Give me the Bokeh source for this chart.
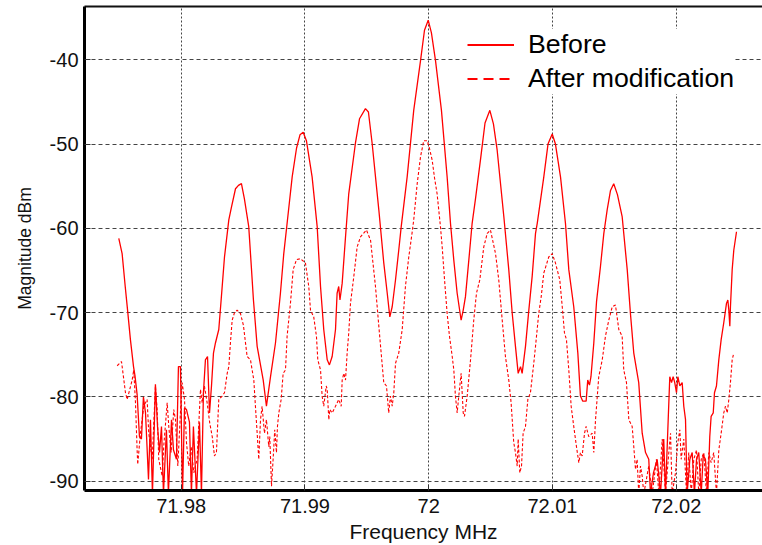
from bokeh.plotting import figure
from bokeh.models import FixedTicker, Legend, LegendItem, Range1d, LinearAxis
from bokeh.embed import file_html
from bokeh.resources import INLINE

freq_before = [
    71.97496, 71.97523, 71.97548, 71.97569, 71.97590, 71.97615, 71.97627, 71.97644,
    71.97663, 71.97679, 71.97695, 71.97712, 71.97736, 71.97752, 71.97768, 71.97792,
    71.97809, 71.97825, 71.97841, 71.97857, 71.97881, 71.97897, 71.97922, 71.97938,
    71.97962, 71.97978, 71.97994, 71.98011, 71.98027, 71.98043, 71.98067, 71.98083,
    71.98099, 71.98124, 71.98148, 71.98164, 71.98180, 71.98196, 71.98213, 71.98229,
    71.98245, 71.98261, 71.98277, 71.98304, 71.98323, 71.98350, 71.98385, 71.98406,
    71.98439, 71.98463, 71.98487, 71.98511, 71.98546, 71.98568, 71.98584, 71.98614,
    71.98663, 71.98689, 71.98722, 71.98762, 71.98802, 71.98829, 71.98856, 71.98897,
    71.98932, 71.98960, 71.98986, 71.99012, 71.99058, 71.99099, 71.99126, 71.99152,
    71.99180, 71.99198, 71.99220, 71.99247, 71.99260, 71.99273, 71.99283, 71.99301,
    71.99328, 71.99354, 71.99408, 71.99441, 71.99489, 71.99513, 71.99543, 71.99597,
    71.99637, 71.99665, 71.99686, 71.99705, 71.99732, 71.99758, 71.99778, 71.99826,
    71.99879, 71.99934, 71.99966, 71.99996, 72.00022, 72.00055, 72.00103, 72.00149,
    72.00176, 72.00203, 72.00230, 72.00262, 72.00279, 72.00297, 72.00324, 72.00351,
    72.00378, 72.00418, 72.00455, 72.00494, 72.00523, 72.00553, 72.00607, 72.00647,
    72.00675, 72.00701, 72.00723, 72.00742, 72.00755, 72.00782, 72.00809, 72.00836,
    72.00863, 72.00877, 72.00930, 72.00964, 72.00998, 72.01024, 72.01065, 72.01105,
    72.01132, 72.01172, 72.01205, 72.01226, 72.01245, 72.01272, 72.01285, 72.01299,
    72.01311, 72.01334, 72.01356, 72.01388, 72.01415, 72.01442, 72.01469, 72.01495,
    72.01525, 72.01563, 72.01604, 72.01630, 72.01657, 72.01697, 72.01725, 72.01752,
    72.01778, 72.01792, 72.01816, 72.01846, 72.01873, 72.01899, 72.01913, 72.01935,
    72.01948, 72.01962, 72.01975, 72.01988, 72.02002, 72.02013, 72.02029, 72.02048,
    72.02061, 72.02075, 72.02088, 72.02110, 72.02129, 72.02147, 72.02164, 72.02182,
    72.02202, 72.02218, 72.02236, 72.02255, 72.02271, 72.02282, 72.02299, 72.02309,
    72.02325, 72.02344, 72.02363, 72.02384, 72.02406, 72.02417, 72.02425, 72.02433,
    72.02438, 72.02452, 72.02465, 72.02487,
]
mag_before = [
    -61.2, -63.0, -66.9, -70.0, -73.2, -76.4, -77.5, -79.7,
    -84.7, -85.0, -80.0, -81.9, -89.8, -82.7, -91.5, -78.5,
    -83.5, -86.6, -83.5, -91.5, -83.9, -91.5, -82.7, -86.3,
    -87.4, -76.4, -76.4, -91.5, -81.3, -81.5, -83.0, -91.5,
    -83.5, -91.5, -83.0, -91.5, -79.5, -75.6, -75.2, -81.9,
    -78.7, -74.8, -73.6, -72.0, -68.5, -63.4, -59.0, -57.5,
    -55.3, -54.9, -54.7, -56.5, -59.8, -64.8, -68.5, -74.0,
    -78.0, -81.1, -77.6, -73.6, -67.7, -63.0, -59.4, -53.9,
    -50.5, -48.9, -48.6, -49.6, -53.9, -59.8, -66.9, -72.0,
    -75.6, -76.2, -75.2, -72.0, -67.7, -66.9, -68.5, -66.5,
    -61.0, -55.9, -49.9, -47.0, -45.8, -46.2, -49.9, -57.8,
    -64.1, -67.7, -70.5, -69.3, -66.1, -62.6, -59.8, -53.9,
    -46.0, -40.1, -36.5, -35.3, -36.8, -40.1, -46.0, -53.9,
    -59.4, -63.8, -67.7, -70.9, -69.7, -68.1, -63.8, -59.4,
    -56.5, -51.9, -47.5, -46.0, -47.6, -50.7, -58.6, -64.9,
    -70.1, -74.0, -77.2, -76.4, -77.2, -74.0, -69.7, -65.7,
    -60.6, -59.4, -53.9, -50.0, -48.8, -50.0, -53.9, -59.4,
    -64.9, -69.3, -74.8, -79.9, -80.5, -80.5, -78.0, -78.6,
    -77.6, -73.6, -68.7, -64.5, -60.6, -57.8, -55.5, -54.7,
    -56.0, -58.6, -64.9, -70.1, -74.8, -78.3, -84.3, -86.6,
    -87.4, -91.5, -89.0, -87.4, -91.5, -85.0, -91.5, -82.7,
    -77.6, -78.3, -77.6, -78.3, -79.5, -77.6, -78.7, -78.3,
    -81.1, -82.7, -91.5, -87.4, -86.6, -91.5, -87.4, -86.6,
    -91.5, -86.9, -87.4, -91.5, -84.7, -82.3, -81.9, -79.5,
    -78.7, -75.6, -73.2, -71.2, -68.9, -68.5, -69.7, -71.6,
    -69.3, -64.9, -62.6, -60.4,
]

freq_after = [
    71.97483, 71.97518, 71.97550, 71.97564, 71.97604, 71.97617, 71.97631, 71.97644,
    71.97649, 71.97671, 71.97698, 71.97725, 71.97738, 71.97766, 71.97792, 71.97806,
    71.97819, 71.97847, 71.97859, 71.97887, 71.97900, 71.97919, 71.97940, 71.97954,
    71.97973, 71.97994, 71.98008, 71.98027, 71.98043, 71.98061, 71.98081, 71.98102,
    71.98129, 71.98156, 71.98170, 71.98188, 71.98210, 71.98231, 71.98251, 71.98269,
    71.98285, 71.98304, 71.98331, 71.98350, 71.98372, 71.98385, 71.98398, 71.98412,
    71.98431, 71.98452, 71.98479, 71.98503, 71.98533, 71.98560, 71.98587, 71.98600,
    71.98614, 71.98627, 71.98641, 71.98654, 71.98673, 71.98689, 71.98708, 71.98716,
    71.98730, 71.98743, 71.98756, 71.98770, 71.98778, 71.98789, 71.98808, 71.98824,
    71.98843, 71.98856, 71.98883, 71.98905, 71.98932, 71.98964, 71.99004, 71.99031,
    71.99045, 71.99071, 71.99093, 71.99104, 71.99126, 71.99139, 71.99152, 71.99172,
    71.99180, 71.99193, 71.99201, 71.99220, 71.99247, 71.99273, 71.99293, 71.99301,
    71.99314, 71.99328, 71.99341, 71.99354, 71.99368, 71.99395, 71.99422, 71.99449,
    71.99497, 71.99530, 71.99570, 71.99597, 71.99616, 71.99637, 71.99659, 71.99677,
    71.99691, 71.99705, 71.99718, 71.99732, 71.99758, 71.99786, 71.99812, 71.99839,
    71.99866, 71.99879, 71.99907, 71.99934, 71.99960, 71.99988, 72.00006, 72.00028,
    72.00047, 72.00068, 72.00095, 72.00109, 72.00128, 72.00149, 72.00168, 72.00190,
    72.00203, 72.00216, 72.00230, 72.00243, 72.00262, 72.00279, 72.00289, 72.00311,
    72.00338, 72.00364, 72.00386, 72.00413, 72.00445, 72.00473, 72.00499, 72.00540,
    72.00566, 72.00594, 72.00620, 72.00647, 72.00666, 72.00687, 72.00701, 72.00715,
    72.00723, 72.00736, 72.00750, 72.00763, 72.00782, 72.00801, 72.00822, 72.00849,
    72.00863, 72.00889, 72.00909, 72.00930, 72.00970, 72.00998, 72.01024, 72.01059,
    72.01079, 72.01097, 72.01113, 72.01132, 72.01151, 72.01172, 72.01194, 72.01213,
    72.01226, 72.01240, 72.01259, 72.01272, 72.01293, 72.01321, 72.01334, 72.01348,
    72.01374, 72.01402, 72.01428, 72.01455, 72.01483, 72.01509, 72.01536, 72.01563,
    72.01576, 72.01598, 72.01617, 72.01644, 72.01657, 72.01671, 72.01684, 72.01697,
    72.01711, 72.01725, 72.01738, 72.01778, 72.01806, 72.01840, 72.01859, 72.01887,
    72.01913, 72.01940, 72.01954, 72.01967, 72.01994, 72.02013, 72.02029, 72.02040,
    72.02061, 72.02083, 72.02101, 72.02121, 72.02142, 72.02164, 72.02182, 72.02202,
    72.02223, 72.02244, 72.02263, 72.02282, 72.02303, 72.02325, 72.02344, 72.02363,
    72.02384, 72.02398, 72.02412, 72.02425, 72.02438, 72.02452, 72.02465,
]
mag_after = [
    -76.3, -75.8, -79.5, -80.3, -78.0, -76.8, -80.7, -86.2,
    -88.0, -84.3, -81.1, -80.3, -84.3, -87.4, -78.7, -81.5,
    -87.4, -89.4, -85.9, -80.7, -83.5, -86.6, -81.5, -82.7,
    -88.2, -81.9, -78.3, -80.3, -85.4, -88.2, -85.9, -89.0,
    -87.4, -79.1, -80.7, -78.7, -80.7, -83.1, -84.7, -87.0,
    -86.6, -80.3, -79.9, -79.5, -77.2, -76.4, -73.6, -70.9,
    -70.0, -69.7, -70.1, -71.5, -75.2, -75.6, -78.0, -81.1,
    -84.3, -87.4, -82.7, -81.1, -84.3, -82.7, -85.9, -84.7,
    -90.6, -87.4, -83.9, -86.6, -83.5, -81.9, -80.3, -77.2,
    -76.8, -72.8, -68.9, -64.9, -63.7, -63.6, -64.1, -66.9,
    -69.7, -70.5, -72.8, -75.6, -76.8, -79.9, -81.1, -78.7,
    -79.1, -82.7, -81.5, -81.9, -81.1, -80.3, -81.1, -78.0,
    -77.2, -78.0, -74.8, -72.4, -68.9, -65.7, -62.2, -61.0,
    -60.2, -61.4, -66.9, -71.6, -74.8, -78.3, -78.7, -81.9,
    -79.9, -81.1, -79.5, -76.0, -74.8, -72.0, -66.9, -63.4,
    -60.5, -59.0, -54.7, -51.5, -49.6, -49.6, -50.5, -51.9,
    -54.0, -55.9, -59.8, -62.2, -66.1, -70.1, -72.8, -75.2,
    -76.8, -79.9, -81.9, -79.9, -77.2, -81.9, -82.3, -79.9,
    -75.6, -70.9, -67.7, -66.1, -62.2, -60.6, -60.2, -63.0,
    -66.1, -70.9, -75.2, -78.0, -80.7, -85.4, -86.6, -88.2,
    -85.0, -89.0, -88.2, -84.3, -83.5, -80.3, -79.5, -76.0,
    -74.0, -70.1, -68.1, -65.3, -63.4, -63.0, -64.1, -66.1,
    -69.3, -72.4, -73.2, -76.8, -81.1, -83.5, -85.9, -87.8,
    -86.6, -87.0, -84.3, -83.5, -84.7, -84.3, -86.6, -82.7,
    -77.6, -75.6, -72.8, -70.9, -69.3, -69.1, -72.0, -72.8,
    -76.8, -78.3, -82.7, -83.5, -85.9, -88.6, -87.4, -91.5,
    -88.2, -89.4, -91.5, -88.2, -91.5, -87.4, -91.5, -85.0,
    -91.5, -86.6, -84.3, -91.5, -89.0, -85.4, -83.9, -87.4,
    -85.0, -91.5, -86.6, -91.5, -87.4, -86.3, -91.5, -87.4,
    -86.6, -91.5, -86.6, -87.8, -86.6, -91.5, -86.3, -84.3,
    -81.9, -81.1, -81.9, -80.3, -78.3, -75.6, -74.8,
]

x_ticks = [71.98, 71.99, 72.0, 72.01, 72.02]
x_tick_labels = ["71.98", "71.99", "72", "72.01", "72.02"]
y_ticks = [-90, -80, -70, -60, -50, -40]
y_tick_labels = ["-90", "-80", "-70", "-60", "-50", "-40"]
series_labels = ["Before", "After modification"]

FONT = "Liberation Sans"
RED = "#ff0000"

p = figure(width=762, height=545, output_backend="svg", toolbar_location=None,
           x_range=Range1d(71.97219, 72.02697), y_range=Range1d(-91.1, -33.68),
           min_border_left=84, min_border_right=0, min_border_top=6,
           min_border_bottom=55)
p.outline_line_color = None
p.background_fill_color = "white"
p.border_fill_color = "white"

p.line(freq_before, mag_before, line_color=RED, line_width=1.3)
p.line(freq_after, mag_after, line_color=RED, line_width=1.1, line_dash="3 2")

xa = p.below[0]
ya = p.left[0]
xa.ticker = FixedTicker(ticks=x_ticks)
xa.major_label_overrides = dict(zip(x_ticks, x_tick_labels))
ya.ticker = FixedTicker(ticks=y_ticks)
ya.major_label_overrides = dict(zip(y_ticks, y_tick_labels))
for ax in (xa, ya):
    ax.axis_line_color = "black"
    ax.axis_line_width = 3
    ax.major_tick_in = 6
    ax.major_tick_out = 0
    ax.major_tick_line_color = "#333333"
    ax.minor_tick_in = 0
    ax.minor_tick_out = 0
    ax.major_label_text_font = FONT
    ax.major_label_text_font_size = "20px"
    ax.major_label_text_color = "#111111"
    ax.axis_label_text_font = FONT
    ax.axis_label_text_font_style = "normal"
    ax.axis_label_text_color = "#111111"
xa.axis_label = "Frequency MHz"
xa.axis_label_text_font_size = "21px"
xa.major_label_standoff = 8
xa.axis_label_standoff = 4
ya.axis_label = "Magnitude dBm"
ya.axis_label_text_font_size = "17.5px"
ya.major_label_standoff = 6
ya.axis_label_standoff = 12

top = LinearAxis(ticker=FixedTicker(ticks=[]), axis_line_width=2, axis_line_color="#111111",
                 major_tick_in=0, major_tick_out=0, minor_tick_in=0, minor_tick_out=0,
                 major_label_standoff=0, major_label_text_font_size="0px")
p.add_layout(top, "above")

p.xgrid.grid_line_color = "#444444"
p.xgrid.grid_line_dash = "2 2"
p.xgrid.grid_line_width = 1
p.ygrid.grid_line_color = "#444444"
p.ygrid.grid_line_dash = "4 3"
p.ygrid.grid_line_width = 1

# legend swatches: hidden copies of the two series, drawn thicker in the legend
leg_solid = p.line(freq_before, mag_before, line_color=RED, line_width=2, visible=False)
leg_dash = p.line(freq_after, mag_after, line_color=RED, line_width=2, line_dash="10 6",
                  visible=False)
legend = Legend(items=[LegendItem(label=series_labels[0], renderers=[leg_solid]),
                       LegendItem(label=series_labels[1], renderers=[leg_dash])],
                location=(383, 396), padding=12, spacing=3,
                glyph_width=47, glyph_height=25, label_height=25, label_standoff=14,
                label_text_font=FONT, label_text_font_size="26.7px",
                label_text_color="black", border_line_color=None,
                background_fill_color="white", background_fill_alpha=1.0,
                inactive_fill_alpha=0.0, click_policy="none")
p.add_layout(legend)

open("out.html", "w").write(file_html(p, INLINE))
